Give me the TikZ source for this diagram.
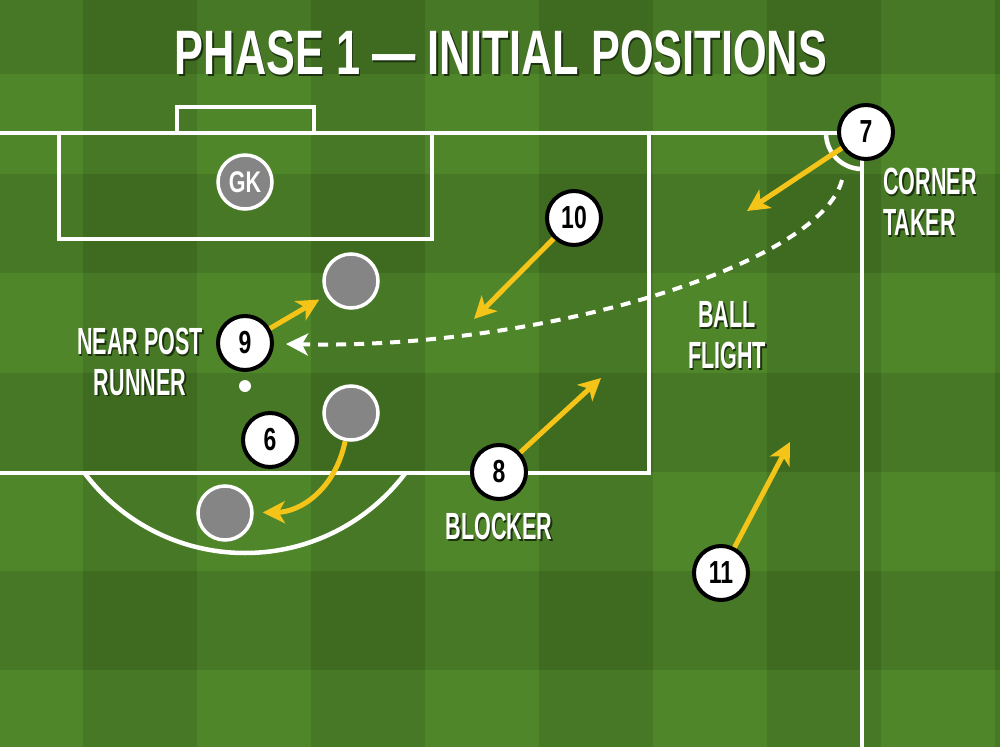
\documentclass[tikz,border=0pt]{standalone}
\usepackage{fontspec}
\setmainfont{Liberation Sans}
\newfontfamily\titlefont[FakeStretch=0.69]{Liberation Sans}
\newfontfamily\labfont[FakeStretch=0.57]{Liberation Sans}
\newfontfamily\numfont[FakeStretch=0.72]{Liberation Sans}
\usetikzlibrary{arrows.meta,shadows}
\definecolor{grass}{RGB}{80,134,42}
\definecolor{pyellow}{RGB}{245,196,24}
\definecolor{oppgray}{RGB}{133,133,133}
\definecolor{txtshadow}{RGB}{28,50,14}
\newcommand\shd[1]{\leavevmode\rlap{\hspace{1.5bp}\raisebox{-1.8bp}{\color{txtshadow}#1}}#1}
\begin{document}
\begin{tikzpicture}[x=1bp,y=-1bp,
  pitchline/.style={white, line width=4.5bp, line join=miter},
  player/.style={circle, draw=black, line width=4bp, fill=white, minimum size=54bp, inner sep=0pt,
    font=\numfont\bfseries\fontsize{32}{32}\selectfont,
    drop shadow={opacity=0.35, shadow xshift=1.5bp, shadow yshift=-2bp}},
  opp/.style={circle, draw=white, line width=3.5bp, fill=oppgray, minimum size=54bp, inner sep=0pt,
    text=white, font=\numfont\bfseries\fontsize{30}{30}\selectfont,
    drop shadow={opacity=0.35, shadow xshift=1.5bp, shadow yshift=-2bp}},
  run/.style={pyellow, line width=5bp, -{Stealth[length=22bp,width=22bp,inset=6bp]}},
  flight/.style={white, line width=4bp, dash pattern=on 10bp off 8bp,
    -{Stealth[length=22bp,width=22bp,inset=6bp,sep=0pt]}},
  lab/.style={text=white, inner sep=0pt, font=\labfont\bfseries\fontsize{38}{41}\selectfont},
  ttl/.style={text=white, inner sep=0pt, font=\titlefont\bfseries\fontsize{63}{63}\selectfont}
]
\useasboundingbox (0,0) rectangle (1000,747);
\clip (0,0) rectangle (1000,747);
% grass
\fill[grass] (0,0) rectangle (1000,747);
\foreach \x in {83,311,539,767,995} \fill[black,opacity=0.1] (\x,0) rectangle ++(114,747);
\foreach \y in {-25,174,373,571} \fill[black,opacity=0.1] (0,\y) rectangle ++(1000,99);
% pitch lines
\draw[pitchline] (-10,133) -- (862,133) -- (862,760);
\draw[pitchline] (-10,473) -- (649,473) -- (649,133);
\draw[pitchline] (59,133) -- (59,239) -- (432,239) -- (432,133);
\draw[pitchline] (177,133) -- (177,107) -- (314,107) -- (314,133);
\begin{scope}
  \clip (0,473) rectangle (1000,747);
  \draw[pitchline] (245,352) circle[radius=201];
\end{scope}
\begin{scope}
  \clip (800,133) rectangle (862,200);
  \draw[pitchline] (862,133) circle[radius=36];
\end{scope}
\fill[white] (245,386) circle[radius=6];
% title
\node[ttl, anchor=base] (title) at (501,75) {\shd{PHASE 1 — INITIAL POSITIONS}};
% opponents
\node[opp] (gk) at (245,182) {GK};
\node[opp] (o1) at (351,281) {};
\node[opp] (o2) at (351,413) {};
\node[opp] (o3) at (225,513) {};
% players
\node[player] (p7) at (866,132) {7};
\node[player] (p10) at (574,218) {10};
\node[player] (p9) at (245,343) {9};
\node[player] (p6) at (270,440) {6};
\node[player] (p8) at (499,472) {8};
\node[player] (p11) at (721,573) {11};
% arrow targets
\coordinate (t7) at (747,211);
\coordinate (t10) at (474,319);
\coordinate (t8) at (601,378);
\coordinate (t11) at (790,442);
\coordinate (bs) at (842,180);
% runs
\draw[run] (p7) -- (t7);
\draw[run] (p10) -- (t10);
\draw[run] (p8) -- (t8);
\draw[run] (p11) -- (t11);
\draw[run, shorten >=8bp] (p9) -- (o1);
\draw[run, shorten >=9bp] (o2) .. controls (335,490) and (300,512) .. (o3);
% ball flight
\draw[flight, shorten >=12bp] (bs) .. controls (820,265) and (540,350) .. (p9);
% labels
\node[lab, align=center] (lnp) at (140,362.5) {\shd{NEAR POST}\\\shd{RUNNER}};
\node[lab, align=center] (lbf) at (727,336) {\shd{BALL}\\\shd{FLIGHT}};
\node[lab, align=left, anchor=west] (lct) at (883,202.5) {\shd{CORNER}\\\shd{TAKER}};
\node[lab] (lbl) at (499,527.5) {\shd{BLOCKER}};
\end{tikzpicture}
\end{document}
